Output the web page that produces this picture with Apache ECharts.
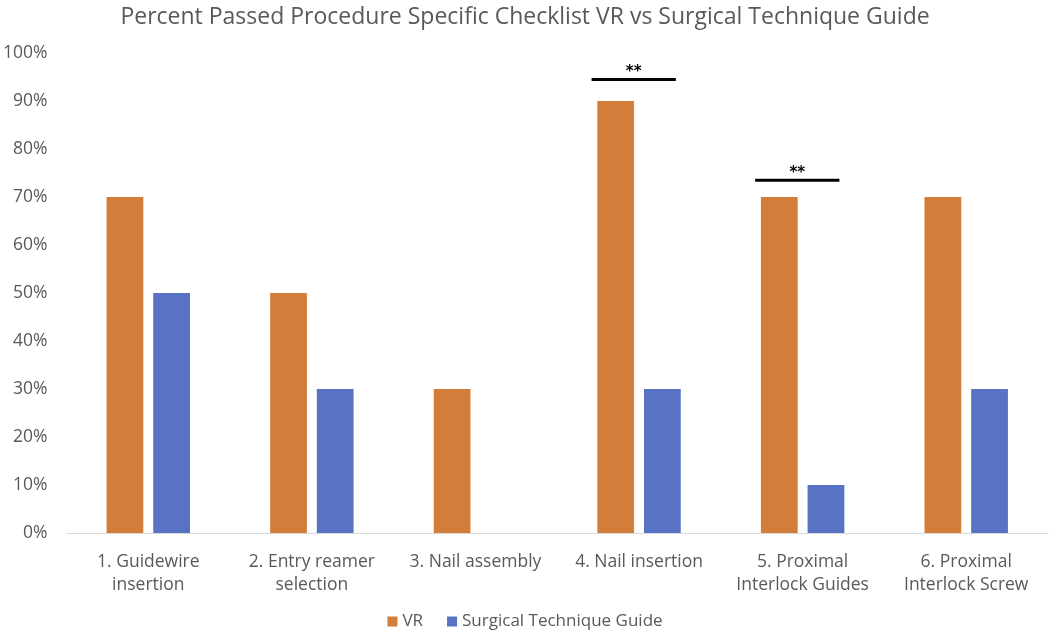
<!DOCTYPE html>
<html>
<head>
<meta charset="utf-8">
<script src="https://cdn.jsdelivr.net/npm/echarts@6/dist/echarts.min.js"></script>
<style>html,body{margin:0;padding:0;background:#fff;}#c{width:1050px;height:634px;}</style>
</head>
<body>
<div id="c"></div>
<script>
const categories = ['1. Guidewire\ninsertion', '2. Entry reamer\nselection', '3. Nail assembly', '4. Nail insertion', '5. Proximal\nInterlock Guides', '6. Proximal\nInterlock Screw'];
const vrValues = [70, 50, 30, 90, 70, 70];
const stgValues = [50, 30, 0, 30, 10, 30];
const sigCategoryIndex = [3, 4];
const sigLevel = [94.5, 73.5];
const sigText = ['**', '**'];

const chart = echarts.init(document.getElementById('c'));
const FONT = '"Open Sans", "Noto Sans", sans-serif';
chart.setOption({
  animation: false,
  backgroundColor: '#fff',
  title: {
    text: 'Percent Passed Procedure Specific Checklist VR vs Surgical Technique Guide',
    left: 'center', top: 1,
    textStyle: { fontFamily: FONT, fontSize: 23, fontWeight: 'normal', color: '#595959' }
  },
  legend: {
    bottom: -1, left: 'center', itemWidth: 10, itemHeight: 10, itemGap: 24,
    icon: 'rect',
    textStyle: { fontFamily: FONT, fontSize: 17, color: '#595959' },
    data: ['VR', 'Surgical Technique Guide']
  },
  grid: { left: 66, right: 2, top: 53, bottom: 101, containLabel: false },
  xAxis: {
    type: 'category', data: categories,
    axisLine: { lineStyle: { color: '#d9d9d9', width: 1 } },
    axisTick: { show: false },
    axisLabel: { fontFamily: FONT, fontSize: 17.5, color: '#595959', lineHeight: 23, margin: 18, interval: 0 }
  },
  yAxis: {
    type: 'value', min: 0, max: 100, interval: 10,
    axisLine: { show: false }, axisTick: { show: false }, splitLine: { show: false },
    axisLabel: { fontFamily: FONT, fontSize: 17.5, color: '#595959', formatter: '{value}%', margin: 19 }
  },
  series: [
    { name: 'VR', type: 'bar', data: vrValues, barCategoryGap: '49%', barGap: '27%', itemStyle: { color: '#D37D3A' } },
    { name: 'Surgical Technique Guide', type: 'bar', data: stgValues, itemStyle: { color: '#5873C4' } },
    {
      name: 'sig', type: 'custom', silent: true,
      data: sigCategoryIndex.map((c, i) => [c, sigLevel[i]]),
      encode: { x: 0, y: 1 },
      renderItem: function (params, api) {
        const p = api.coord([api.value(0), api.value(1)]);
        const bw = api.size([1, 0])[0];
        const x1 = p[0] - 0.29 * bw, x2 = p[0] + 0.225 * bw;
        return {
          type: 'group', children: [
            { type: 'line', shape: { x1: x1, y1: p[1], x2: x2, y2: p[1] }, style: { stroke: '#000', lineWidth: 3 } },
            { type: 'text', style: { text: sigText[params.dataIndex], x: (x1 + x2) / 2, y: p[1] - 7, textAlign: 'center', textVerticalAlign: 'middle', font: 'bold 15px "DejaVu Sans", sans-serif', fill: '#000' } }
          ]
        };
      }
    }
  ]
});
</script>
</body>
</html>
